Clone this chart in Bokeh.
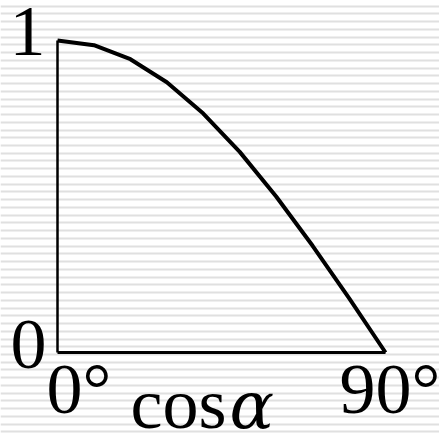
from bokeh.plotting import figure
from bokeh.models import Range1d
from bokeh.core.properties import value
from bokeh.embed import file_html
from bokeh.resources import INLINE

# Angle (degrees) and cos(angle) sampled every 10 degrees
angles = [0, 10, 20, 30, 40, 50, 60, 70, 80, 90]
cos_vals = [1.0, 0.985, 0.94, 0.866, 0.766, 0.643, 0.5, 0.342, 0.174, 0.0]

y_labels = ["1", "0"]
x_labels = ["0°", "90°"]
x_title = "cos"
x_title_symbol = "α"

W, H = 439, 435
# pixel geometry of the drawing area
X0_PX, X1_PX = 57, 385      # 0° and 90°
Y0_PX, Y1_PX = 352, 40      # value 0 and value 1
sx = (X1_PX - X0_PX) / 90.0
sy = (Y0_PX - Y1_PX) / 1.0
BASE_SHIFT = 26             # baseline correction for the serif font


def xd(px):
    return (px - X0_PX) / sx


def yd(py):
    return (Y0_PX - py) / sy


def yb(py, shift=BASE_SHIFT):
    return yd(py - shift)


p = figure(width=W, height=H, output_backend="svg", toolbar_location=None,
           x_range=Range1d(xd(0), xd(W)), y_range=Range1d(yd(H), yd(0)),
           min_border=0)
p.axis.visible = False
p.grid.visible = False
p.outline_line_color = None
p.background_fill_color = "white"
p.border_fill_color = "white"

# striped background, snapped to whole pixels
stripe_ys = [yd(round(5.7 + 7.74 * k)) for k in range(57)]
p.multi_line(xs=[[xd(0), xd(W)] for _ in stripe_ys],
             ys=[[y, y] for y in stripe_ys],
             line_color="#e0e0e0", line_width=2)

# axes
p.line([0, 0], [0, 1], line_color="black", line_width=2.5)
p.line([0, 90], [0, 0], line_color="black", line_width=2.8)

# curve
p.line(angles, cos_vals, line_color="black", line_width=4,
       line_join="round")

font = value("Liberation Serif")
size = "72px"

p.text(x=[xd(45), xd(46)], y=[yb(57), yb(370)], text=y_labels,
       text_font=font, text_font_size=size, text_align="right",
       text_baseline="alphabetic", text_color="black")
p.text(x=[xd(46), xd(339)], y=[yb(414), yb(414)], text=x_labels,
       text_font=font, text_font_size=size, text_align="left",
       text_baseline="alphabetic", text_color="black")
p.text(x=[xd(130)], y=[yb(429)], text=[x_title],
       text_font=font, text_font_size=size, text_align="left",
       text_baseline="alphabetic", text_color="black")
p.text(x=[xd(229)], y=[yb(429, 24)], text=[x_title_symbol],
       text_font=value("DejaVu Serif"), text_font_size="66px",
       text_font_style="italic",
       text_align="left", text_baseline="alphabetic", text_color="black")

open("out.html", "w").write(file_html(p, INLINE))
